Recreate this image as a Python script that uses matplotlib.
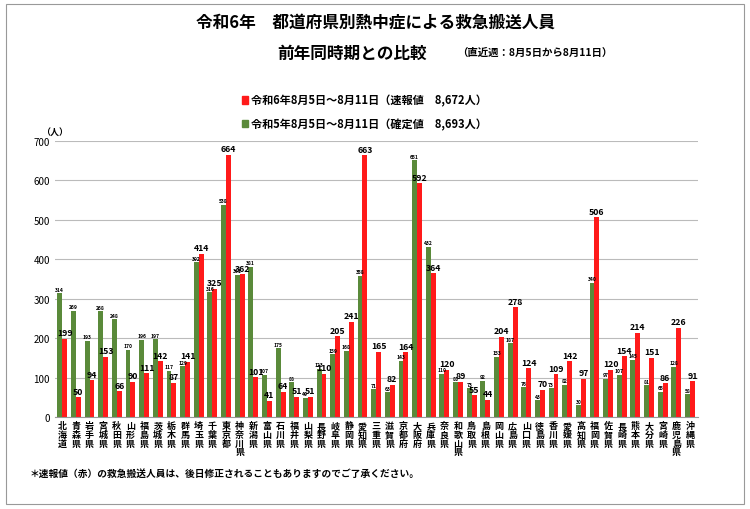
import matplotlib
matplotlib.use("Agg")
import matplotlib.pyplot as plt
import numpy as np
from matplotlib.patches import Rectangle

plt.rcParams['font.family'] = ['Noto Sans CJK JP', 'DejaVu Sans']

prefs = ["北海道","青森県","岩手県","宮城県","秋田県","山形県","福島県","茨城県","栃木県","群馬県",
         "埼玉県","千葉県","東京都","神奈川県","新潟県","富山県","石川県","福井県","山梨県","長野県",
         "岐阜県","静岡県","愛知県","三重県","滋賀県","京都府","大阪府","兵庫県","奈良県","和歌山県",
         "鳥取県","島根県","岡山県","広島県","山口県","徳島県","香川県","愛媛県","高知県","福岡県",
         "佐賀県","長崎県","熊本県","大分県","宮崎県","鹿児島県","沖縄県"]
r5 = [314,269,193,268,248,170,196,197,117,129,392,316,538,361,381,107,175,88,49,123,
      159,168,358,71,63,143,651,432,110,88,73,92,153,187,76,43,73,82,30,340,97,107,145,81,65,128,58]
r6 = [199,50,94,153,66,90,111,142,87,141,414,325,664,362,101,41,64,51,51,110,
      205,241,663,165,82,164,592,364,120,89,55,44,204,278,124,70,109,142,97,506,120,154,214,151,86,226,91]

fig = plt.figure(figsize=(7.5,5.1), dpi=100)
fig.patches.append(Rectangle((0.008,0.01),0.984,0.98, transform=fig.transFigure,
                             fill=False, ec='#999999', lw=0.8))
ax = fig.add_axes([0.073, 0.18, 0.857, 0.542])
x = np.arange(len(prefs))
w = 0.36
g = '#5a8a3a'; r = '#ff1a1a'
ax.bar(x - w/2, r5, w, color=g)
ax.bar(x + w/2, r6, w, color=r)
for i in range(len(prefs)):
    ax.text(x[i]-w/2, r5[i]+4, str(r5[i]), ha='center', va='bottom', fontsize=3.6, fontweight='bold')
    ax.text(x[i]+w/2, r6[i]+4, str(r6[i]), ha='center', va='bottom', fontsize=6.3, fontweight='bold')
ax.set_ylim(0, 700)
ax.set_yticks(range(0, 701, 100))
ax.tick_params(axis='y', labelsize=7, length=0)
ax.set_xlim(-0.55, len(prefs)-0.45)
ax.set_xticks(x)
ax.set_xticklabels(['\n'.join(p) for p in prefs], fontsize=6.5, fontweight='bold', linespacing=0.95)
ax.tick_params(axis='x', length=0, pad=3)
ax.yaxis.grid(True, color='#bbbbbb', lw=0.8)
ax.set_axisbelow(True)
for s in ['top','right','left']:
    ax.spines[s].set_visible(False)
ax.spines['bottom'].set_color('#999999')
fig.text(0.055, 0.735, '（人）', fontsize=6.5, fontweight='bold')

fig.text(0.5, 0.945, '令和6年　都道府県別熱中症による救急搬送人員', ha='center', fontsize=12, fontweight='bold')
fig.text(0.37, 0.885, '前年同時期との比較', ha='left', fontsize=12, fontweight='bold')
fig.text(0.61, 0.89, '（直近週：8月5日から8月11日）', ha='left', fontsize=7.5, fontweight='bold')

fig.patches.append(Rectangle((0.322,0.795),0.009,0.014, transform=fig.transFigure, color=r))
fig.text(0.335, 0.802, '令和6年8月5日～8月11日（速報値　8,672人）', fontsize=8, fontweight='bold', va='center')
fig.patches.append(Rectangle((0.322,0.749),0.009,0.014, transform=fig.transFigure, color=g))
fig.text(0.335, 0.756, '令和5年8月5日～8月11日（確定値　8,693人）', fontsize=8, fontweight='bold', va='center')

fig.text(0.04, 0.065, '＊速報値（赤）の救急搬送人員は、後日修正されることもありますのでご了承ください。', fontsize=7, fontweight='bold')
fig.savefig('out.png', dpi=100)
